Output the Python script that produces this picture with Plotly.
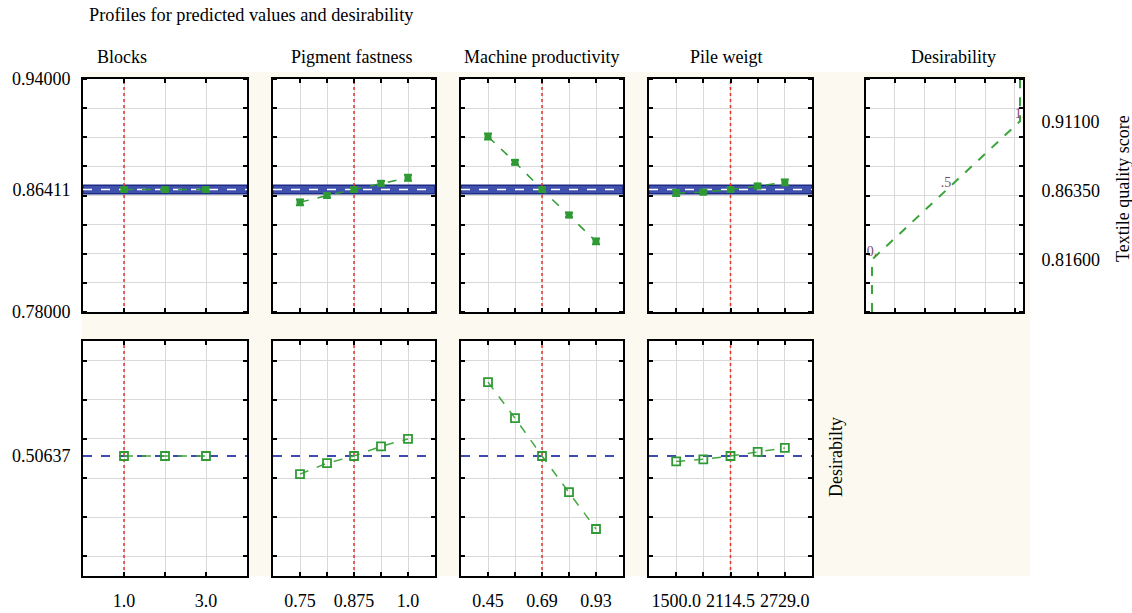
import plotly.graph_objects as go

W, H = 1132, 613

# ---------------- data ----------------
factor_names = ["Blocks", "Pigment fastness", "Machine productivity", "Pile weigt"]
blocks_x = [1, 2, 3]
pigment_x = [0.75, 0.8125, 0.875, 0.9375, 1.0]
machine_x = [0.45, 0.57, 0.69, 0.81, 0.93]
pile_x = [1500.0, 1807.25, 2114.5, 2421.75, 2729.0]
current_levels = [1.0, 0.875, 0.69, 2114.5]

blocks_pred = [0.86411, 0.86411, 0.86411]
pigment_pred = [0.8553, 0.8600, 0.86411, 0.8684, 0.8722]
machine_pred = [0.9005, 0.8828, 0.86411, 0.8466, 0.8285]
pile_pred = [0.8617, 0.8623, 0.86411, 0.8665, 0.8690]
blocks_err = [0.0012, 0.0012, 0.0012]
pigment_err = [0.0020, 0.0015, 0.0012, 0.0015, 0.0020]
machine_err = [0.0020, 0.0015, 0.0012, 0.0015, 0.0020]
pile_err = [0.0020, 0.0015, 0.0012, 0.0015, 0.0020]

pred_current = 0.86411
pred_ci_low = 0.8612
pred_ci_high = 0.8670

blocks_des = [0.50637, 0.50637, 0.50637]
pigment_des = [0.460, 0.488, 0.50637, 0.531, 0.550]
machine_des = [0.695, 0.603, 0.50637, 0.414, 0.320]
pile_des = [0.4925, 0.498, 0.50637, 0.517, 0.527]
des_current = 0.50637

# desirability function of the response
dfun_des = [0.0, 0.0, 0.5, 1.0, 1.0]
dfun_resp = [0.78, 0.816, 0.8635, 0.911, 0.94]
dfun_label_des = [0.0, 0.5, 1.0]
dfun_label_resp = [0.816, 0.8635, 0.911]
dfun_label_text = ["0.", ".5", "1."]

x_tickvals = [[1, 3], [0.75, 0.875, 1.0], [0.45, 0.69, 0.93], [1500.0, 2114.5, 2729.0]]
x_ticktext = [["1.0", "3.0"], ["0.75", "0.875", "1.0"], ["0.45", "0.69", "0.93"],
              ["1500.0", "2114.5", "2729.0"]]
resp_tickvals = [0.78, 0.86411, 0.94]
resp_ticktext = ["0.78000", "0.86411", "0.94000"]
resp_right_tickvals = [0.816, 0.8635, 0.911]
resp_right_ticktext = ["0.81600", "0.86350", "0.91100"]
des_tickvals = [0.50637]
des_ticktext = ["0.50637"]

xs = [blocks_x, pigment_x, machine_x, pile_x]
preds = [blocks_pred, pigment_pred, machine_pred, pile_pred]
errs = [blocks_err, pigment_err, machine_err, pile_err]
dess = [blocks_des, pigment_des, machine_des, pile_des]

# ---------------- layout geometry ----------------
x_ranges = [[0, 4], [0.6875, 1.0625], [0.33, 1.05], [1192.75, 3036.25]]
col_px = [(83, 247), (273, 435), (461, 623), (649, 812), (866, 1023)]
top_px = (79, 312)
bot_px = (341, 576)
resp_range = [0.78, 0.94]
des_range = [0.2, 0.8]


def dx(a, b):
    return [a / W, b / W]


def dy(t, b):
    return [1 - b / H, 1 - t / H]


FONT = "Liberation Serif, Times New Roman, serif"
FS = 18
GREEN = "#2f9a34"
GRID = "#d9d9d9"
RED = "#e8322a"

fig = go.Figure()
layout = dict(
    width=W, height=H, margin=dict(l=0, r=0, t=0, b=0, pad=0, autoexpand=False),
    paper_bgcolor="white", plot_bgcolor="rgba(0,0,0,0)", showlegend=False,
    font=dict(family=FONT, size=FS, color="black"),
)
annotations = []
shapes = [dict(type="rect", xref="paper", yref="paper", x0=82 / W, x1=1030 / W,
               y0=1 - 576 / H, y1=1 - 72 / H, fillcolor="#fcfaf0", line=dict(width=0),
               layer="below")]


def panel_bg(xd, yd):
    shapes.append(dict(type="rect", xref="paper", yref="paper", x0=xd[0], x1=xd[1],
                       y0=yd[0], y1=yd[1], fillcolor="white", line=dict(width=0),
                       layer="below"))


def base_axis(dom, rng):
    return dict(domain=dom, range=rng, showline=True, linecolor="black", linewidth=2,
                mirror="allticks", ticks="", showgrid=False, zeroline=False,
                automargin=False, fixedrange=True,
                tickfont=dict(family=FONT, size=FS, color="black"))


def minor_cfg(**kw):
    d = dict(showgrid=True, gridcolor=GRID, gridwidth=1, ticks="inside", ticklen=4,
             tickwidth=1.5, tickcolor="black")
    d.update(kw)
    return d


idx = 0
for i in range(4):
    # ---- top row (predicted values) ----
    idx += 1
    xa = "xaxis" if idx == 1 else f"xaxis{idx}"
    ya = "yaxis" if idx == 1 else f"yaxis{idx}"
    xr = "x" if idx == 1 else f"x{idx}"
    yr = "y" if idx == 1 else f"y{idx}"
    ax = base_axis(dx(*col_px[i]), x_ranges[i])
    ax.update(anchor=yr, showticklabels=False, minor=minor_cfg(tickvals=xs[i]))
    ay = base_axis(dy(*top_px), resp_range)
    ay.update(anchor=xr, showticklabels=(i == 0), tickvals=resp_tickvals,
              ticktext=resp_ticktext, ticklabelstandoff=7,
              minor=minor_cfg(tick0=0.80, dtick=0.02))
    layout[xa] = ax
    layout[ya] = ay
    panel_bg(ax["domain"], ay["domain"])
    x0, x1 = x_ranges[i]
    # confidence band of the current prediction
    fig.add_trace(go.Scatter(
        x=[x0, x1, x1, x0, x0], y=[pred_ci_low, pred_ci_low, pred_ci_high, pred_ci_high, pred_ci_low],
        xaxis=xr, yaxis=yr, mode="lines", fill="toself", fillcolor="#3f50ad",
        line=dict(color="#1d2b86", width=1.5), hoverinfo="skip"))
    fig.add_trace(go.Scatter(
        x=[x0, x1], y=[pred_current, pred_current], xaxis=xr, yaxis=yr, mode="lines",
        line=dict(color="white", width=1.5, dash="dash"), hoverinfo="skip"))
    fig.add_trace(go.Scatter(
        x=[current_levels[i], current_levels[i]], y=resp_range, xaxis=xr, yaxis=yr,
        mode="lines", line=dict(color=RED, width=1.5, dash="dot"), hoverinfo="skip"))
    fig.add_trace(go.Scatter(
        x=xs[i], y=preds[i], xaxis=xr, yaxis=yr, mode="lines+markers",
        line=dict(color=GREEN, width=1.5, dash="dash"),
        marker=dict(symbol="square", size=7, color=GREEN),
        error_y=dict(type="data", array=errs[i], color=GREEN, thickness=2, width=4)))

for i in range(4):
    # ---- bottom row (desirability) ----
    idx += 1
    xa = f"xaxis{idx}"
    ya = f"yaxis{idx}"
    xr = f"x{idx}"
    yr = f"y{idx}"
    ax = base_axis(dx(*col_px[i]), x_ranges[i])
    ax.update(anchor=yr, showticklabels=True, tickvals=x_tickvals[i], ticktext=x_ticktext[i],
              ticklabelstandoff=7, minor=minor_cfg(tickvals=xs[i]))
    ay = base_axis(dy(*bot_px), des_range)
    ay.update(anchor=xr, showticklabels=(i == 0), tickvals=des_tickvals,
              ticktext=des_ticktext, ticklabelstandoff=7,
              minor=minor_cfg(tick0=0.25, dtick=0.1))
    layout[xa] = ax
    layout[ya] = ay
    panel_bg(ax["domain"], ay["domain"])
    x0, x1 = x_ranges[i]
    fig.add_trace(go.Scatter(
        x=[x0, x1], y=[des_current, des_current], xaxis=xr, yaxis=yr, mode="lines",
        line=dict(color="#3c4bb0", width=2, dash="dash"), hoverinfo="skip"))
    fig.add_trace(go.Scatter(
        x=[current_levels[i], current_levels[i]], y=des_range, xaxis=xr, yaxis=yr,
        mode="lines", line=dict(color=RED, width=1.5, dash="dot"), hoverinfo="skip"))
    fig.add_trace(go.Scatter(
        x=xs[i], y=dess[i], xaxis=xr, yaxis=yr, mode="lines+markers",
        line=dict(color="#45a845", width=1.5, dash="dash"),
        marker=dict(symbol="square-open", size=8, color=GREEN, line=dict(width=1.8))))

# ---- desirability function panel ----
idx += 1
xr, yr = f"x{idx}", f"y{idx}"
ax = base_axis(dx(*col_px[4]), [-0.0405, 1.0203])
ax.update(anchor=yr, showticklabels=False,
          minor=minor_cfg(tickvals=[0.155, 0.358, 0.561, 0.764, 0.966]))
ay = base_axis(dy(*top_px), resp_range)
ay.update(anchor=xr, side="right", showticklabels=True, tickvals=resp_right_tickvals,
          ticktext=resp_right_ticktext, ticklabelstandoff=13,
          minor=minor_cfg(tick0=0.80, dtick=0.02))
layout[f"xaxis{idx}"] = ax
layout[f"yaxis{idx}"] = ay
panel_bg(ax["domain"], ay["domain"])
fig.add_trace(go.Scatter(x=dfun_des, y=dfun_resp, xaxis=xr, yaxis=yr, mode="lines",
                         line=dict(color="#3aa53a", width=2, dash="dash")))
fig.add_trace(go.Scatter(x=dfun_label_des, y=dfun_label_resp, xaxis=xr, yaxis=yr,
                         mode="text", text=dfun_label_text, textposition="top center",
                         textfont=dict(family=FONT, size=14, color="#7a4d6e")))

# ---- texts ----
annotations.append(dict(text="Profiles for predicted values and desirability", xref="paper",
                        yref="paper", x=87 / W, y=1 - 15 / H, xanchor="left", yanchor="middle",
                        showarrow=False, font=dict(family=FONT, size=18.3)))
col_title_x = [122, 352, 541, 726, 953]
col_titles = factor_names + ["Desirability"]
for t, cx in zip(col_titles, col_title_x):
    annotations.append(dict(text=t, xref="paper", yref="paper", x=cx / W, y=1 - 57 / H,
                            xanchor="center", yanchor="middle", showarrow=False,
                            font=dict(family=FONT, size=FS)))
annotations.append(dict(text="Textile quality score", xref="paper", yref="paper",
                        x=1123 / W, y=1 - 189 / H, textangle=-90, showarrow=False,
                        xanchor="center", yanchor="middle", font=dict(family=FONT, size=18)))
annotations.append(dict(text="Desirabilty", xref="paper", yref="paper",
                        x=836 / W, y=1 - 457 / H, textangle=-90, showarrow=False,
                        xanchor="center", yanchor="middle", font=dict(family=FONT, size=FS)))

layout["shapes"] = shapes
layout["annotations"] = annotations
fig.update_layout(**layout)
fig.write_html("out.html", config={"displayModeBar": False},
               post_script="document.body.style.margin='0px';")
